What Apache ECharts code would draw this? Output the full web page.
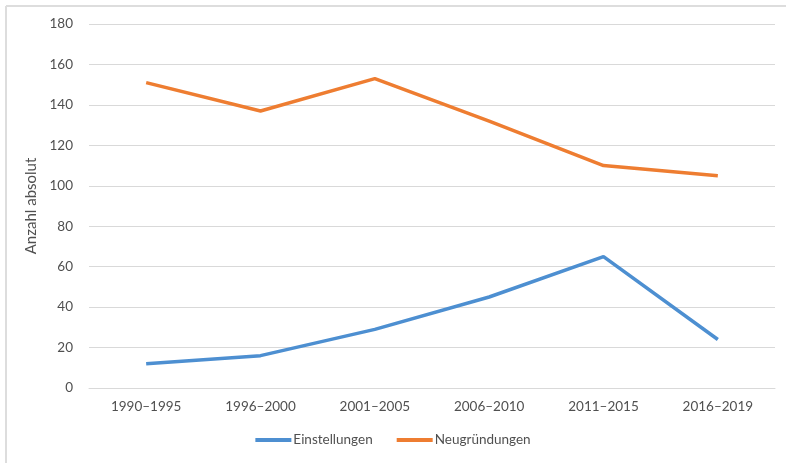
<!DOCTYPE html>
<html>
<head>
<meta charset="utf-8">
<script src="https://cdn.jsdelivr.net/npm/echarts@6/dist/echarts.min.js"></script>
<style>
html,body{margin:0;padding:0;background:#fff;}
#chart{width:786px;height:463px;}
</style>
</head>
<body>
<div id="chart"></div>
<script>
const categories = ['1990–1995', '1996–2000', '2001–2005', '2006–2010', '2011–2015', '2016–2019'];
const einstellungen = [12, 16, 29, 45, 65, 24];
const neugruendungen = [151, 137, 153, 132, 110, 105];
const yTicks = { min: 0, max: 180, interval: 20 };

const font = 'Lato, "Liberation Sans", sans-serif';
const textColor = '#505050';
const chart = echarts.init(document.getElementById('chart'), null, { renderer: 'canvas' });
chart.setOption({
  animation: false,
  backgroundColor: '#ffffff',
  graphic: [
    { type: 'line', shape: { x1: 6, y1: 6, x2: 786, y2: 6 }, style: { stroke: '#dddddd', lineWidth: 2 } },
    { type: 'line', shape: { x1: 6, y1: 6, x2: 6, y2: 463 }, style: { stroke: '#dddddd', lineWidth: 2 } }
  ],
  grid: { left: 89, right: 11, top: 24, bottom: 75, containLabel: false },
  legend: {
    bottom: 11,
    left: 'center',
    icon: 'rect',
    itemWidth: 36,
    itemHeight: 4,
    itemGap: 24,
    textStyle: { fontFamily: font, fontSize: 13.5, color: textColor, padding: [0, 0, 0, -3] },
    data: ['Einstellungen', 'Neugründungen']
  },
  xAxis: {
    type: 'category',
    data: categories,
    boundaryGap: true,
    axisLine: { show: true, lineStyle: { color: '#d9d9d9', width: 1 } },
    axisTick: { show: false },
    axisLabel: { fontFamily: font, fontSize: 13.5, color: textColor, margin: 12 }
  },
  yAxis: {
    type: 'value',
    min: yTicks.min,
    max: yTicks.max,
    interval: yTicks.interval,
    name: 'Anzahl absolut',
    nameLocation: 'middle',
    nameGap: 49,
    nameTextStyle: { fontFamily: font, fontSize: 15, color: textColor },
    axisLine: { show: false },
    axisTick: { show: false },
    axisLabel: { fontFamily: font, fontSize: 13.5, color: textColor, margin: 16 },
    splitLine: { lineStyle: { color: '#d9d9d9', width: 1 } }
  },
  series: [
    {
      name: 'Einstellungen',
      type: 'line',
      data: einstellungen,
      symbol: 'none',
      lineStyle: { color: '#4d8fd1', width: 3.5 },
      itemStyle: { color: '#4d8fd1' }
    },
    {
      name: 'Neugründungen',
      type: 'line',
      data: neugruendungen,
      symbol: 'none',
      lineStyle: { color: '#ee7d31', width: 3.5 },
      itemStyle: { color: '#ee7d31' }
    }
  ]
});
</script>
</body>
</html>
